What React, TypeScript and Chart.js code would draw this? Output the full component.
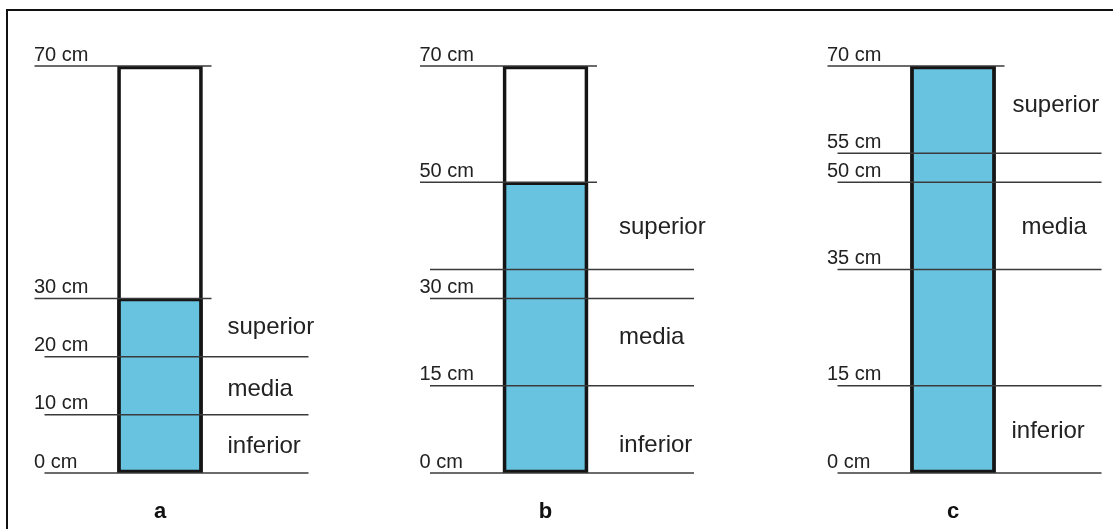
import React, { useEffect, useRef } from "react";
import { Chart, registerables } from "chart.js";

Chart.register(...registerables);

// ---- data (values in cm) ----
const PANELS = ["a", "b", "c"];
const TUBE_TOP = 70;
const WATER_LEVELS = [30, 50, 70];
const TICK_MARKS = [
  [70, 30, 20, 10, 0],
  [70, 50, 30, 15, 0],
  [70, 55, 50, 35, 15, 0],
];
const SHORT_LINES = [[70, 30], [70, 50], [70]];
const LONG_LINES = [
  [20, 10, 0],
  [35, 30, 15, 0],
  [55, 50, 35, 15, 0],
];
const ZONE_NAMES = ["superior", "media", "inferior"];
const ZONE_LABEL_AT = [
  [25, 14.3, 4.5],
  [42.3, 23.4, 4.8],
  [63.2, 42.3, 7.1],
];

// ---- layout (page pixels) ----
const HEIGHT = 529;
const LAYOUT = [
  { left: 0, width: 380, center: 160, zoneDx: [25, 25, 25] },
  { left: 380, width: 380, center: 545.5, zoneDx: [31, 31, 31] },
  { left: 760, width: 353, center: 953, zoneDx: [17, 26, 16] },
];
const Y_AXIS_W = 60;
const FONT = '"Liberation Sans", Arial, sans-serif';

const guidePlugin = {
  id: "guides",
  afterDatasetsDraw(chart: any, _args: any, opts: any) {
    const { ctx } = chart;
    const y = chart.scales.y;
    const bar = chart.getDatasetMeta(0).data[0];
    if (!bar) return;
    const { x, width } = bar.getProps(["x", "width"], true);
    const bl = x - width / 2;
    const br = x + width / 2;
    ctx.save();
    ctx.strokeStyle = "#3a3a3a";
    ctx.lineWidth = 1.5;
    const line = (v: number, x1: number, x2: number) => {
      const py = y.getPixelForValue(v);
      ctx.beginPath();
      ctx.moveTo(x1, py);
      ctx.lineTo(x2, py);
      ctx.stroke();
    };
    (opts.short || []).forEach((v: number) => line(v, bl - 83, br + 9));
    (opts.long || []).forEach((v: number) => line(v, bl - 73, br + 106));
    ctx.fillStyle = "#222";
    ctx.font = `24px ${FONT}`;
    ctx.textAlign = "left";
    ctx.textBaseline = "middle";
    (opts.zones || []).forEach((name: string, i: number) => {
      ctx.fillText(name, br + opts.zoneDx[i], y.getPixelForValue(opts.zoneAt[i]));
    });
    ctx.restore();
  },
};

export default function App() {
  const refs = useRef<(HTMLCanvasElement | null)[]>([]);

  useEffect(() => {
    const charts: Chart[] = [];
    PANELS.forEach((name, i) => {
      const canvas = refs.current[i];
      if (!canvas) return;
      const L = LAYOUT[i];
      const c = L.center - L.left;
      const padLeft = c - 126;
      const areaRight = c + 126 - Y_AXIS_W;
      const marks = TICK_MARKS[i];
      const chart = new Chart(canvas, {
        type: "bar",
        data: {
          labels: [name],
          datasets: [
            {
              label: "tube",
              data: [[0, TUBE_TOP]] as any,
              backgroundColor: "rgba(0,0,0,0)",
              borderColor: "#151515",
              borderWidth: 3,
              borderSkipped: false,
              grouped: false,
              barThickness: 85,
            } as any,
            {
              label: "water",
              data: [[0, WATER_LEVELS[i]]] as any,
              backgroundColor: "#67C3DF",
              borderColor: "#151515",
              borderWidth: 3,
              borderSkipped: false,
              grouped: false,
              barThickness: 85,
            } as any,
          ],
        },
        options: {
          responsive: false,
          animation: false,
          events: [],
          layout: {
            padding: { left: padLeft, right: L.width - areaRight, top: 66, bottom: 0 },
          },
          plugins: {
            legend: { display: false },
            tooltip: { enabled: false },
            guides: {
              short: SHORT_LINES[i],
              long: LONG_LINES[i],
              zones: ZONE_NAMES,
              zoneAt: ZONE_LABEL_AT[i],
              zoneDx: L.zoneDx,
            },
          } as any,
          scales: {
            x: {
              type: "category",
              grid: { display: false, drawTicks: false },
              border: { display: false },
              ticks: {
                font: { family: FONT, size: 22, weight: "bold" },
                color: "#111",
                padding: 26,
              },
              afterFit: (s: any) => {
                s.height = 56;
              },
            },
            y: {
              min: 0,
              max: 70,
              grid: { display: false, drawTicks: false },
              border: { display: false },
              afterBuildTicks: (s: any) => {
                s.ticks = marks.map((v) => ({ value: v }));
              },
              ticks: {
                autoSkip: false,
                callback: (v: any) => `${v} cm`,
                font: { family: FONT, size: 20 },
                color: "#222",
                labelOffset: -11,
                crossAlign: "far",
                padding: 0,
              },
              afterFit: (s: any) => {
                s.width = Y_AXIS_W;
              },
            },
          },
        } as any,
        plugins: [guidePlugin],
      });
      charts.push(chart);
    });
    return () => charts.forEach((ch) => ch.destroy());
  }, []);

  return (
    <div
      style={{
        position: "absolute",
        left: 0,
        top: 0,
        width: 1113,
        height: HEIGHT,
        overflow: "hidden",
        background: "#fff",
      }}
    >
      <div
        style={{
          position: "absolute",
          left: 6,
          top: 9,
          width: 1200,
          height: 700,
          borderTop: "2.5px solid #111",
          borderLeft: "2.5px solid #111",
        }}
      />
      {LAYOUT.map((L, i) => (
        <canvas
          key={i}
          ref={(el) => {
            refs.current[i] = el;
          }}
          width={L.width}
          height={HEIGHT}
          style={{ position: "absolute", left: L.left, top: 0, width: L.width, height: HEIGHT }}
        />
      ))}
    </div>
  );
}
